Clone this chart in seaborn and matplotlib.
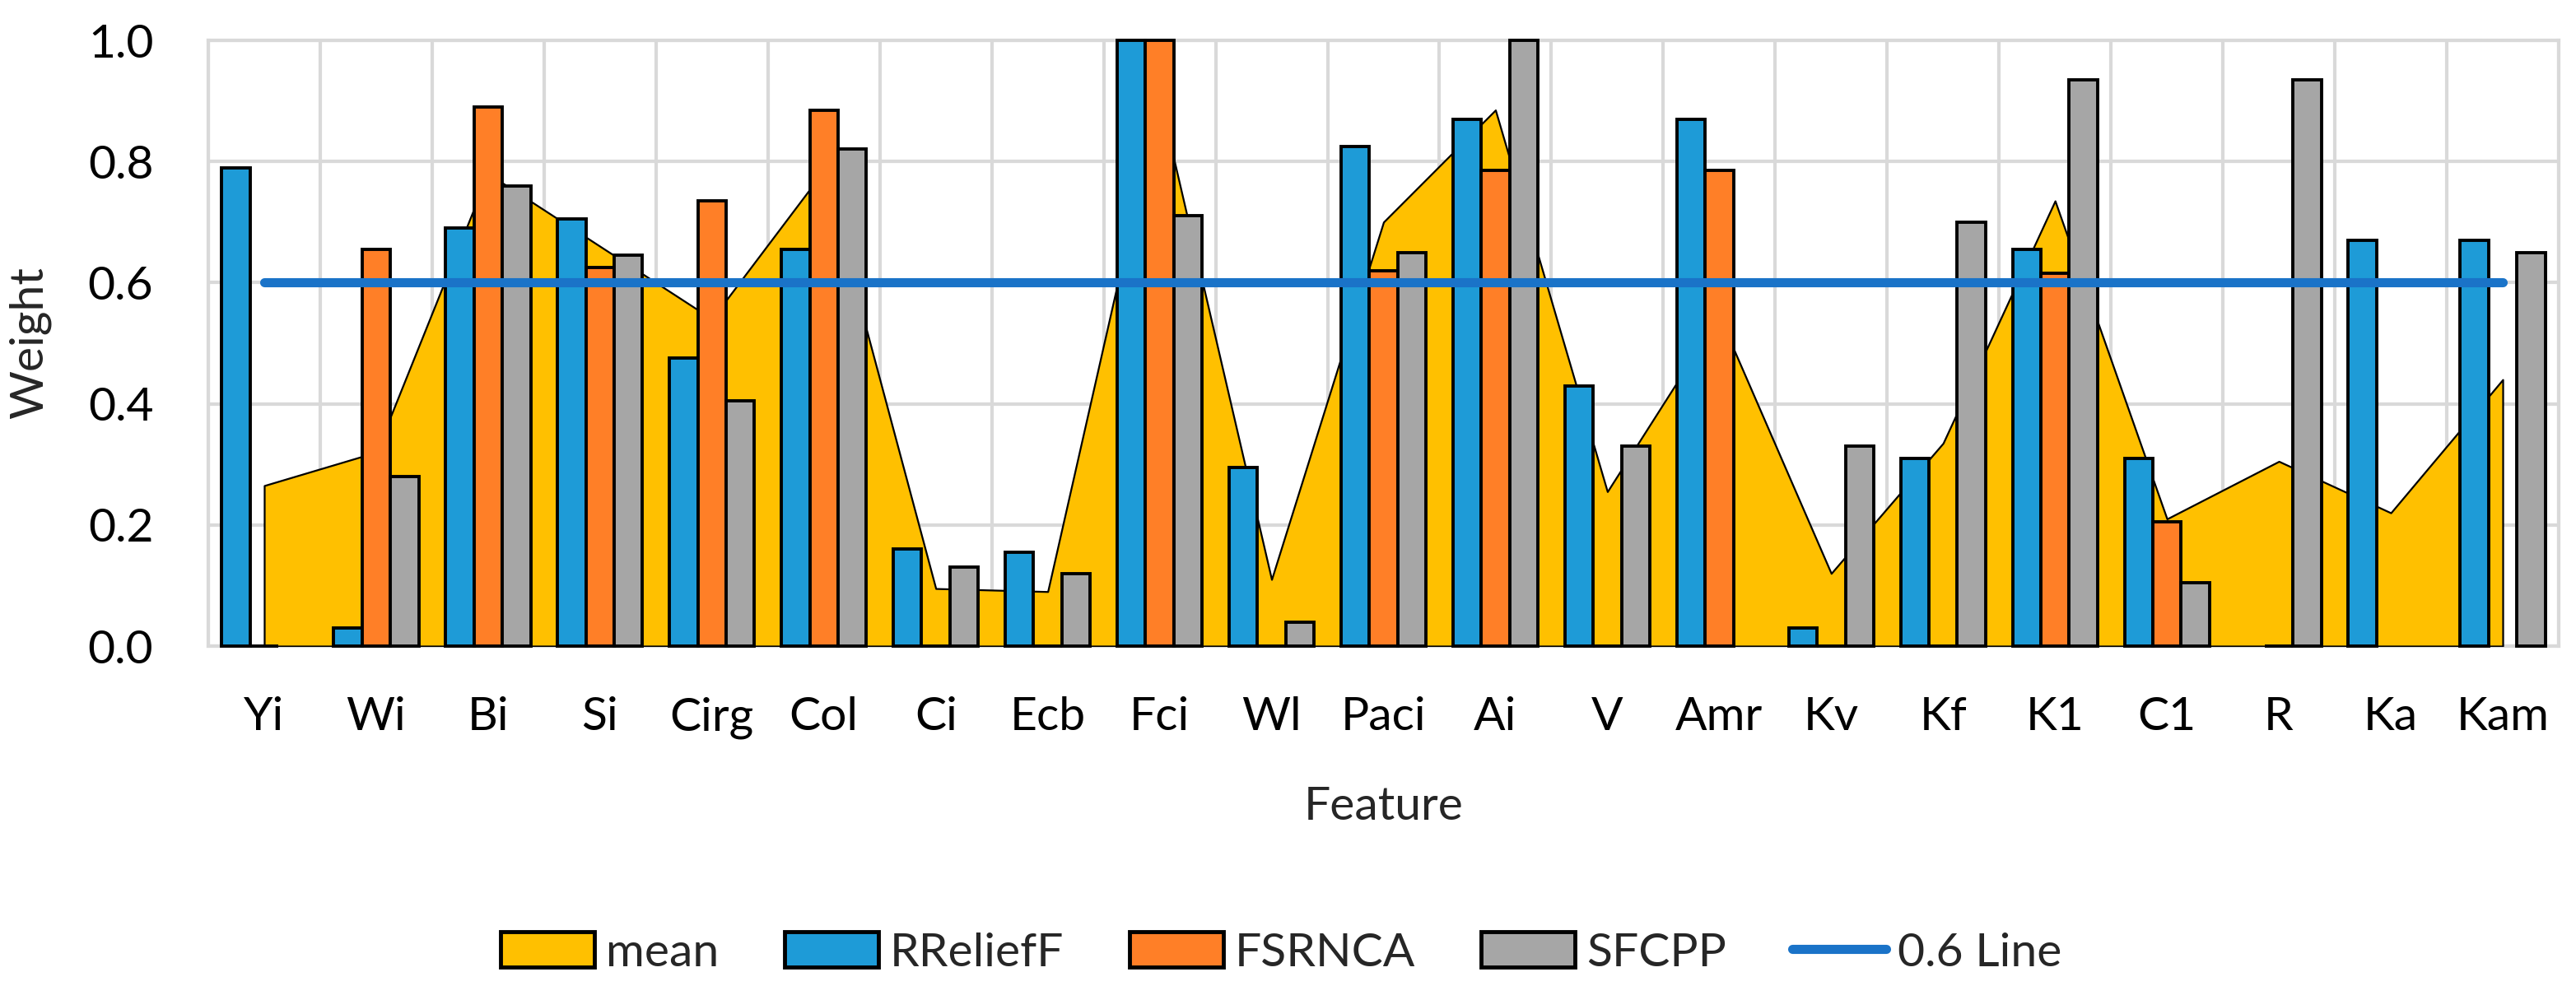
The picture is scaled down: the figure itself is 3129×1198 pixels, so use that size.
import numpy as np
import pandas as pd
import matplotlib
matplotlib.use('Agg')
import matplotlib.pyplot as plt
import seaborn as sns
from matplotlib.patches import Patch
from matplotlib.lines import Line2D

sns.set_style('white')
plt.rcParams['font.family'] = ['Lato', 'DejaVu Sans']

nan = np.nan

# Values
features = ['Yi', 'Wi', 'Bi', 'Si', 'Cirg', 'Col', 'Ci', 'Ecb', 'Fci', 'Wl', 'Paci',
            'Ai', 'V', 'Amr', 'Kv', 'Kf', 'K1', 'C1', 'R', 'Ka', 'Kam']
rrelieff = [0.79, 0.03, 0.69, 0.705, 0.475, 0.655, 0.16, 0.155, 1.0, 0.295, 0.825,
            0.87, 0.43, 0.87, 0.03, 0.31, 0.655, 0.31, nan, 0.67, 0.67]
fsrnca = [0.0, 0.655, 0.89, 0.625, 0.735, 0.885, 0.0, 0.0, 1.0, 0.0, 0.62,
          0.785, 0.0, 0.785, 0.0, 0.0, 0.615, 0.205, 0.0, nan, nan]
sfcpp = [nan, 0.28, 0.76, 0.645, 0.405, 0.82, 0.13, 0.12, 0.71, 0.04, 0.65,
         1.0, 0.33, nan, 0.33, 0.70, 0.935, 0.105, 0.935, nan, 0.65]
mean_w = [0.265, 0.32, 0.78, 0.66, 0.54, 0.785, 0.095, 0.09, 0.905, 0.11, 0.70,
          0.885, 0.255, 0.545, 0.12, 0.335, 0.735, 0.21, 0.305, 0.22, 0.44]
line_06 = [0.6] * len(features)

methods = ['RReliefF', 'FSRNCA', 'SFCPP']
colors = {'RReliefF': '#1E9BD7', 'FSRNCA': '#FF7F27', 'SFCPP': '#A6A6A6'}
area_color = '#FFC000'
line_color = '#1A73C8'
grid_color = '#D9D9D9'

df = pd.DataFrame({'Feature': features * 3,
                   'Weight': rrelieff + fsrnca + sfcpp,
                   'Method': np.repeat(methods, len(features))})
df = df.dropna(subset=['Weight'])

fig = plt.figure(figsize=(31.29, 11.98), dpi=100)
ax = fig.add_axes([253 / 3129, 1 - 785 / 1198, 2855 / 3129, 736 / 1198])

# bars
sns.barplot(data=df, x='Feature', y='Weight', hue='Method', order=features,
            hue_order=methods, palette=colors, width=0.76, errorbar=None,
            edgecolor='black', linewidth=2.8, saturation=1, ax=ax, zorder=2)
for p in ax.patches:
    p.set_clip_on(False)

# mean area behind the bars
pos = np.arange(len(features))
ax.fill_between(pos, mean_w, 0, facecolor=area_color, edgecolor='black',
                linewidth=1.6, zorder=1)

# 0.6 line
sns.lineplot(x=pos, y=line_06, color=line_color, linewidth=8, ax=ax, zorder=4,
             legend=False)

ax.set_xlim(-0.5, len(features) - 0.5)
ax.set_ylim(0, 1.0)
ax.set_yticks(np.arange(0, 1.01, 0.2))
ax.set_yticklabels([f'{v:.1f}' for v in np.arange(0, 1.01, 0.2)])
ax.set_xticks(np.arange(-0.5, len(features), 1), minor=True)
ax.grid(True, which='major', axis='y', color=grid_color, linewidth=3, zorder=0)
ax.grid(True, which='minor', axis='x', color=grid_color, linewidth=3, zorder=0)
ax.set_axisbelow(True)
for s in ax.spines.values():
    s.set_color(grid_color)
    s.set_linewidth(3)
    s.set_zorder(0.5)
ax.tick_params(which='both', length=0, labelsize=41, colors='black')
ax.tick_params(axis='y', pad=48)
ax.tick_params(axis='x', pad=44)
ax.set_xlabel('')
ax.set_ylabel('')
if ax.get_legend() is not None:
    ax.get_legend().remove()

fig.text(36 / 3129, 1 - 417 / 1198, 'Weight', rotation=90, ha='center',
         va='center', fontsize=41)
fig.text(1681 / 3129, 1 - 980 / 1198, 'Feature', ha='center', va='center',
         fontsize=41)

handles = [Patch(facecolor=area_color, edgecolor='black', linewidth=3.5, label='mean')]
handles += [Patch(facecolor=colors[m], edgecolor='black', linewidth=3.5, label=m)
            for m in methods]
handles.append(Line2D([0], [0], color=line_color, linewidth=8, label='0.6 Line'))
fig.legend(handles=handles, loc='center', bbox_to_anchor=(1556 / 3129, 1 - 1158 / 1198),
           ncol=5, frameon=False, fontsize=41, handlelength=2.0, handleheight=0.78,
           handletextpad=0.25, columnspacing=1.4)

fig.savefig('out.png', dpi=100)
